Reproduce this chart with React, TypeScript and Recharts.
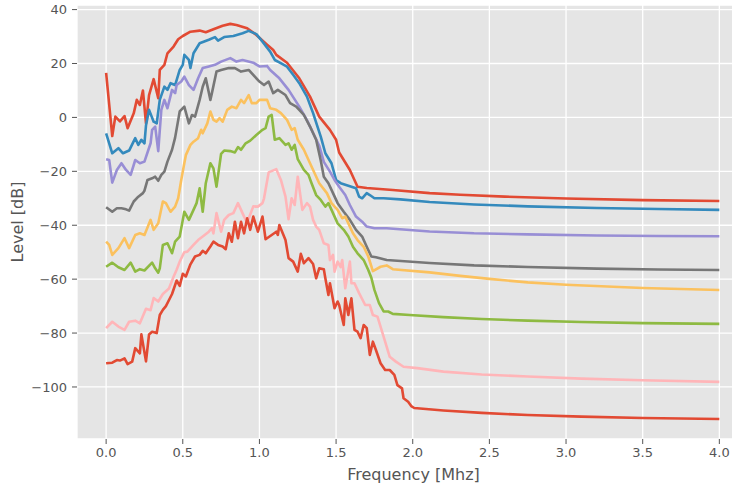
import { LineChart, Line, XAxis, YAxis, CartesianGrid, Label } from 'recharts';

type Pt = [number, number];

const freqTicks = [0, 0.5, 1, 1.5, 2, 2.5, 3, 3.5, 4];
const levelTicks = [-100, -80, -60, -40, -20, 0, 20, 40];

// [frequency MHz, level dB]
const trace1: Pt[] = [[0,16.5],[0.04,-6.9],[0.06,0.3],[0.09,-1.5],[0.12,0.5],[0.14,-4],[0.18,1.5],[0.2,6.5],[0.22,4.6],[0.24,10],[0.26,-2.2],[0.28,8.3],[0.31,14.2],[0.34,7.1],[0.35,17.6],[0.38,19.5],[0.4,23.8],[0.44,26.3],[0.47,29],[0.5,30.2],[0.55,31.8],[0.61,32.2],[0.65,31.6],[0.7,32.7],[0.76,34],[0.81,34.7],[0.85,34.3],[0.92,33.1],[0.98,30.6],[1.05,27],[1.09,25],[1.11,23.2],[1.18,20.3],[1.26,14.5],[1.33,7.7],[1.39,0.3],[1.46,-4.6],[1.5,-8.3],[1.52,-13],[1.59,-19.5],[1.64,-25.7],[1.7,-26.2],[1.87,-26.9],[2.11,-28.1],[2.31,-28.7],[2.6,-29.4],[3,-30.1],[3.5,-30.7],[4,-31]];
const trace2: Pt[] = [[0,-5.9],[0.04,-13.3],[0.08,-11.4],[0.11,-13.3],[0.15,-12.3],[0.19,-7.7],[0.21,-10.2],[0.23,-8.3],[0.25,-9.6],[0.26,-3],[0.28,2.8],[0.31,-1.6],[0.33,-2.2],[0.35,6.5],[0.38,11.4],[0.4,10.2],[0.42,12.7],[0.45,12],[0.48,17.6],[0.5,19.5],[0.51,23.2],[0.54,21.3],[0.55,18.3],[0.57,23.8],[0.61,27.5],[0.67,28.8],[0.71,29.8],[0.73,28.5],[0.77,29.8],[0.83,30.2],[0.89,31.2],[0.93,32.1],[0.98,30.9],[1.02,28.1],[1.07,24.4],[1.1,21.3],[1.13,20.4],[1.18,18.8],[1.22,15.8],[1.26,12.7],[1.31,7.7],[1.35,1.6],[1.4,-7.1],[1.43,-13.3],[1.47,-17],[1.5,-23.2],[1.53,-24.4],[1.6,-25.7],[1.63,-26.3],[1.65,-29.4],[1.67,-30],[1.7,-28.1],[1.72,-28.8],[1.75,-30],[1.81,-30],[1.92,-30.4],[2.11,-31.4],[2.4,-32.3],[2.75,-33],[3.2,-33.6],[3.6,-34],[4,-34.3]];
const trace3: Pt[] = [[0,-15.5],[0.02,-15.8],[0.04,-24.2],[0.07,-19.5],[0.1,-17],[0.13,-19.5],[0.16,-21.3],[0.19,-15.8],[0.22,-17],[0.25,-16.4],[0.29,-9.6],[0.3,-4.6],[0.32,-3.4],[0.34,-12.5],[0.36,2.8],[0.38,6.5],[0.4,3.4],[0.43,10.2],[0.45,9],[0.46,12],[0.49,13.3],[0.51,15.1],[0.54,12],[0.57,10.2],[0.6,14.5],[0.63,18.3],[0.67,18.9],[0.71,19.5],[0.75,20.7],[0.81,22],[0.85,20.7],[0.89,21.3],[0.96,20.3],[1,18.9],[1.05,19.1],[1.07,17.6],[1.13,14.5],[1.19,10.2],[1.26,4],[1.31,-1],[1.39,-10.5],[1.42,-16.5],[1.46,-20.1],[1.49,-23.2],[1.52,-25.7],[1.56,-28.8],[1.59,-32.5],[1.63,-36.8],[1.67,-38.7],[1.7,-40.5],[1.75,-41.1],[1.83,-41.1],[2.11,-42.3],[2.4,-43],[2.75,-43.4],[3.2,-43.8],[3.6,-44],[4,-44.1]];
const trace4: Pt[] = [[0,-33.3],[0.04,-35],[0.07,-33.7],[0.1,-33.7],[0.13,-34.1],[0.15,-34.6],[0.18,-31.2],[0.21,-29.4],[0.24,-28.1],[0.25,-27.2],[0.27,-23.2],[0.3,-22.6],[0.32,-22],[0.34,-23.5],[0.36,-21.3],[0.38,-20.1],[0.4,-16.4],[0.43,-12],[0.45,-7.5],[0.48,2.2],[0.51,4],[0.54,-2.2],[0.56,0.9],[0.58,0.3],[0.61,6.5],[0.63,11.4],[0.65,14.5],[0.68,6.5],[0.69,9],[0.72,17],[0.75,17.6],[0.8,18.3],[0.84,18.3],[0.88,17],[0.93,17.6],[0.97,15.1],[1,13.3],[1.03,12],[1.06,13.3],[1.09,9],[1.12,10.2],[1.17,8.3],[1.2,5.3],[1.24,4],[1.29,0.9],[1.33,-3.4],[1.37,-8.3],[1.4,-16],[1.42,-22],[1.45,-24.4],[1.48,-28.1],[1.51,-31.8],[1.55,-35],[1.59,-38],[1.63,-41.7],[1.67,-44.2],[1.7,-48],[1.73,-51.6],[1.76,-51.9],[1.83,-52.9],[2.11,-54],[2.4,-54.9],[2.75,-55.5],[3.2,-56.1],[3.6,-56.4],[4,-56.6]];
const trace5: Pt[] = [[0,-46.1],[0.02,-47.3],[0.04,-51],[0.08,-48.5],[0.12,-44.8],[0.15,-48.5],[0.19,-43.6],[0.22,-43],[0.25,-43.6],[0.29,-38],[0.31,-41.7],[0.34,-39.3],[0.37,-31.2],[0.39,-31.8],[0.42,-35],[0.45,-33.1],[0.47,-30],[0.49,-23.2],[0.51,-17],[0.52,-14],[0.55,-10.2],[0.57,-9],[0.6,-7.7],[0.62,-4.6],[0.63,-5.9],[0.66,-2.2],[0.68,2.2],[0.7,-0.9],[0.72,-1.6],[0.74,-0.3],[0.76,-1.6],[0.79,2.8],[0.82,4],[0.85,3.4],[0.88,6.5],[0.9,5.3],[0.93,8.3],[0.95,5.3],[0.98,5.3],[1,6.5],[1.05,6.5],[1.07,3.4],[1.11,2.8],[1.14,1.6],[1.18,-0.9],[1.21,-4.6],[1.23,-4],[1.25,-8.3],[1.29,-12],[1.33,-17],[1.36,-20.7],[1.39,-24.4],[1.44,-28.1],[1.47,-31.8],[1.51,-34.3],[1.54,-37.4],[1.56,-36.8],[1.59,-40.5],[1.61,-43],[1.64,-45.5],[1.68,-48],[1.71,-51.6],[1.74,-57],[1.79,-55.4],[1.83,-54.9],[1.87,-56.3],[2.11,-57.5],[2.31,-58.8],[2.5,-59.9],[2.75,-61.2],[3,-62.1],[3.5,-63.3],[4,-64]];
const trace6: Pt[] = [[0,-55.4],[0.04,-53.9],[0.08,-55.6],[0.12,-56.6],[0.16,-53.9],[0.19,-57.2],[0.22,-56.3],[0.25,-56.8],[0.3,-53.9],[0.32,-56],[0.34,-57.6],[0.35,-56],[0.37,-47.3],[0.4,-46.7],[0.43,-50.4],[0.45,-46.1],[0.48,-44.2],[0.51,-35],[0.54,-38],[0.57,-34.3],[0.59,-31.8],[0.61,-26.3],[0.63,-35],[0.65,-24.4],[0.68,-17],[0.7,-18.9],[0.72,-25.7],[0.75,-13.5],[0.77,-12.3],[0.81,-12.5],[0.84,-13],[0.86,-11],[0.88,-12],[0.91,-9.6],[0.94,-8.6],[0.98,-6.5],[1.02,-4.6],[1.04,-4],[1.06,0.3],[1.08,0.9],[1.1,-8.3],[1.13,-7.7],[1.17,-10.2],[1.19,-9.6],[1.21,-12],[1.23,-10.2],[1.25,-15.5],[1.29,-19.5],[1.32,-21.3],[1.34,-24.4],[1.37,-28.8],[1.4,-30.6],[1.43,-33.1],[1.45,-31.8],[1.48,-35.5],[1.51,-39.3],[1.55,-41.7],[1.58,-44.2],[1.61,-48],[1.64,-50.4],[1.68,-52.9],[1.71,-56.6],[1.73,-59.5],[1.75,-64],[1.78,-68.9],[1.81,-72],[1.84,-72],[1.87,-72.9],[1.98,-73.3],[2.2,-74.1],[2.45,-74.8],[2.75,-75.4],[3.1,-75.9],[3.5,-76.3],[4,-76.6]];
const trace7: Pt[] = [[0,-78.2],[0.04,-75.8],[0.08,-77.6],[0.12,-78.8],[0.15,-75.8],[0.19,-75.4],[0.22,-76.4],[0.26,-71],[0.29,-71.5],[0.31,-67],[0.34,-68.3],[0.37,-65.5],[0.41,-63.5],[0.44,-59.1],[0.46,-56.5],[0.48,-53.5],[0.51,-50],[0.53,-49.8],[0.57,-47.3],[0.6,-45.5],[0.63,-44.2],[0.67,-42.4],[0.69,-41.1],[0.7,-43],[0.72,-35.5],[0.75,-42.4],[0.77,-38],[0.8,-36.2],[0.83,-35.5],[0.86,-31.8],[0.88,-34.3],[0.9,-36.8],[0.92,-39],[0.96,-33],[0.99,-33.1],[1.02,-31.8],[1.03,-30],[1.06,-20.4],[1.11,-19.2],[1.14,-23.2],[1.17,-29.4],[1.19,-37.8],[1.21,-30],[1.23,-32.5],[1.25,-22],[1.28,-34.3],[1.31,-31.8],[1.33,-33.1],[1.35,-38],[1.37,-40.5],[1.39,-41.7],[1.42,-46.7],[1.45,-47.3],[1.46,-52.9],[1.48,-51],[1.49,-57.2],[1.51,-53.5],[1.53,-55.5],[1.54,-52.9],[1.56,-63.4],[1.59,-53.5],[1.6,-61.5],[1.62,-61.5],[1.65,-65.2],[1.69,-69.6],[1.72,-69.6],[1.74,-73.3],[1.77,-73.9],[1.81,-81.3],[1.85,-88.8],[1.89,-90.6],[1.94,-92.5],[2.03,-93],[2.2,-94.3],[2.45,-95.4],[2.75,-96.1],[3.1,-96.9],[3.5,-97.5],[4,-98.1]];
const trace8: Pt[] = [[0,-91.2],[0.04,-91],[0.07,-90],[0.09,-90.2],[0.12,-89.4],[0.14,-91.5],[0.17,-90.6],[0.19,-85.6],[0.22,-87.5],[0.23,-80.5],[0.26,-90.5],[0.28,-80.5],[0.3,-79.5],[0.33,-80],[0.35,-73.3],[0.37,-71.4],[0.39,-70],[0.43,-65.5],[0.46,-60.5],[0.48,-62.5],[0.5,-58],[0.52,-59],[0.55,-54.5],[0.58,-51.6],[0.61,-51],[0.63,-49.5],[0.65,-50.4],[0.68,-47.9],[0.7,-46.1],[0.73,-47.3],[0.76,-47.9],[0.78,-48.9],[0.8,-43],[0.82,-46.1],[0.84,-38.7],[0.86,-44.8],[0.88,-38.7],[0.9,-43],[0.92,-37.4],[0.94,-41.7],[0.96,-36.8],[0.99,-42.4],[1.02,-36.8],[1.04,-45.2],[1.08,-43.6],[1.11,-42.4],[1.12,-43.6],[1.13,-39.9],[1.17,-45.5],[1.19,-52.2],[1.22,-53.5],[1.25,-57.2],[1.27,-50.6],[1.29,-54.1],[1.32,-52.2],[1.35,-54.4],[1.37,-59.7],[1.39,-56],[1.42,-56.3],[1.43,-59.7],[1.45,-65.9],[1.46,-61.5],[1.49,-70.8],[1.51,-68.3],[1.52,-69.6],[1.55,-77],[1.56,-67.1],[1.58,-73.3],[1.6,-67.1],[1.62,-78.8],[1.64,-79.5],[1.66,-81.9],[1.68,-77],[1.7,-78.2],[1.72,-88.1],[1.74,-83.2],[1.76,-86.3],[1.79,-91.2],[1.82,-93.7],[1.85,-93.7],[1.88,-95.5],[1.9,-99.3],[1.93,-100.5],[1.94,-104.2],[1.97,-105.5],[1.99,-107.1],[2.01,-107.8],[2.2,-108.7],[2.45,-109.6],[2.75,-110.4],[3.1,-111],[3.5,-111.5],[4,-111.9]];

const traces = [trace1, trace2, trace3, trace4, trace5, trace6, trace7, trace8];
// ggplot style colour cycle (wraps back to red for the 8th line)
const traceColors = ['#E24A33', '#348ABD', '#988ED5', '#777777', '#FBC15E', '#8EBA42', '#FFB5B8', '#E24A33'];

const FONT = '"DejaVu Sans", sans-serif';
const TEXT = '#555555';

const toRows = (pts: Pt[]) => pts.map(([f, v]) => ({ f, v }));
const fmtLevel = (v: number) => (v < 0 ? `\u2212${Math.abs(v)}` : `${v}`);

function XTitle({ viewBox }: any) {
  const cx = viewBox.x + viewBox.width / 2;
  return (
    <text x={cx} y={474} textAnchor="middle" dominantBaseline="central" fill={TEXT} fontSize={16} fontFamily={FONT}>
      Frequency [Mhz]
    </text>
  );
}

function YTitle({ viewBox }: any) {
  const cy = viewBox.y + viewBox.height / 2;
  return (
    <text x={17} y={cy} transform={`rotate(-90, 17, ${cy})`} textAnchor="middle" dominantBaseline="central" fill={TEXT} fontSize={16} fontFamily={FONT}>
      Level [dB]
    </text>
  );
}

export default function App() {
  return (
    <div style={{ position: 'absolute', left: 0, top: 0, width: 732, height: 485, overflow: 'hidden', background: '#fff', fontFamily: FONT }}>
      <LineChart width={760} height={485} margin={{ top: 5, right: 10, bottom: 0, left: 0 }}>
        <CartesianGrid fill="#E5E5E5" stroke="#ffffff" strokeWidth={1.3} />
        <XAxis
          dataKey="f"
          type="number"
          domain={[-0.19, 4.2]}
          ticks={freqTicks}
          tickFormatter={(v: number) => v.toFixed(1)}
          allowDataOverflow
          axisLine={false}
          tickLine={{ stroke: TEXT }}
          tickSize={5}
          tickMargin={4}
          tick={{ fill: TEXT, fontSize: 13, fontFamily: FONT }}
          height={46}
        >
          <Label content={XTitle} />
        </XAxis>
        <YAxis
          type="number"
          domain={[-119.3, 41.7]}
          ticks={levelTicks}
          tickFormatter={fmtLevel}
          allowDataOverflow
          axisLine={false}
          tickLine={{ stroke: TEXT }}
          tickSize={5}
          tickMargin={5}
          tick={{ fill: TEXT, fontSize: 13, fontFamily: FONT }}
          width={77}
        >
          <Label content={YTitle} />
        </YAxis>
        {traces.map((t, i) => (
          <Line
            key={i}
            data={toRows(t)}
            dataKey="v"
            type="linear"
            stroke={traceColors[i]}
            strokeWidth={2.6}
            strokeLinejoin="round"
            dot={false}
            activeDot={false}
            isAnimationActive={false}
          />
        ))}
      </LineChart>
    </div>
  );
}
